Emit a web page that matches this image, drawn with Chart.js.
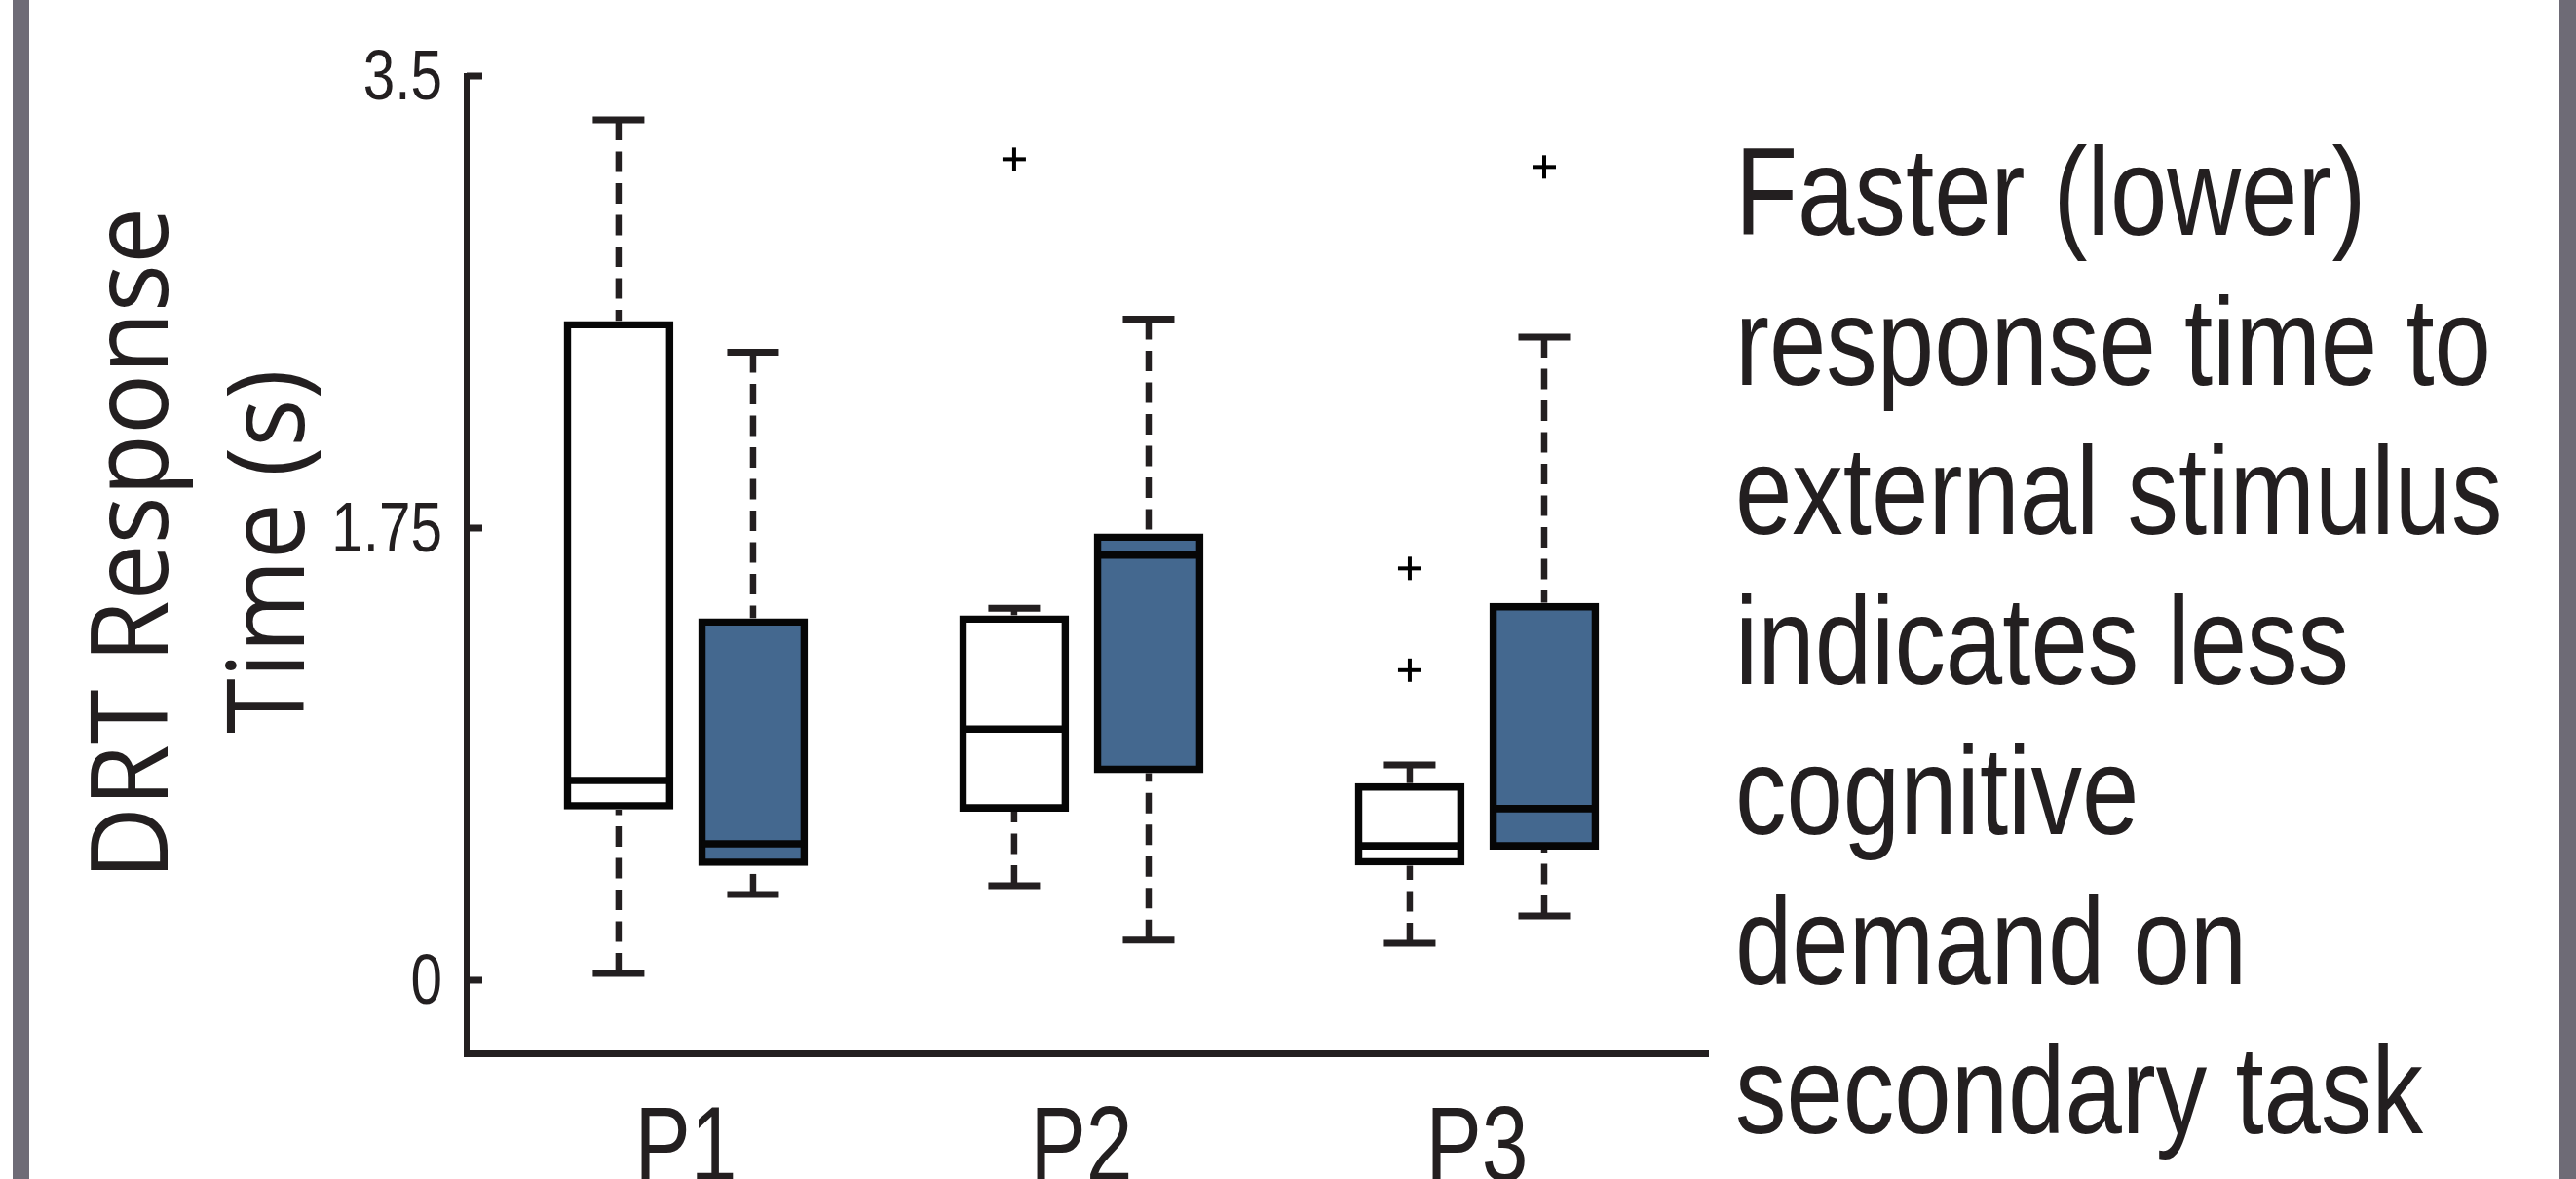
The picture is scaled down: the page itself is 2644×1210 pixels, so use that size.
<!DOCTYPE html>
<html>
<head>
<meta charset="utf-8">
<script src="https://cdn.jsdelivr.net/npm/chart.js@4.4.1/dist/chart.umd.min.js"></script>
<style>
  html, body { margin: 0; padding: 0; background: #fff; }
  #wrap { position: relative; width: 2644px; height: 1210px; overflow: hidden; background: #fff; }
  #chart { position: absolute; left: 0; top: 0; }
  .frame { position: absolute; top: 0; height: 1210px; background: #6e6b76; }
  #note {
    position: absolute; left: 1781px; top: 120px;
    font-family: "Liberation Sans", Arial, sans-serif;
    font-size: 128px; line-height: 153.7px; color: #231f20; white-space: nowrap;
    transform: scaleX(0.82); transform-origin: 0 0;
  }
</style>
</head>
<body>
<div id="wrap">
  <div class="frame" style="left:13px;width:17px"></div>
  <div class="frame" style="left:2627px;width:17px"></div>
  <canvas id="chart" width="2644" height="1210"></canvas>
  <div id="note"></div>
</div>
<script>
// data (seconds)
const categories = ['P1', 'P2', 'P3'];
const yTicks = [0, 1.75, 3.5];
const yTickLabels = ['0', '1.75', '3.5'];
const yTitle = ['DRT Response', 'Time (s)'];
const noteLines = ['Faster (lower)', 'response time to', 'external stimulus',
  'indicates less', 'cognitive', 'demand on', 'secondary task'];

// white boxes
const whiteMin = [0.026, 0.366, 0.143];
const whiteQ1 = [0.675, 0.667, 0.458];
const whiteMedian = [0.773, 0.972, 0.520];
const whiteQ3 = [2.537, 1.398, 0.748];
const whiteMax = [3.33, 1.44, 0.833];
const whiteOutliers = [[], [3.178], [1.594, 1.20]];

// blue boxes
const blueMin = [0.332, 0.155, 0.249];
const blueQ1 = [0.456, 0.816, 0.520];
const blueMedian = [0.528, 1.645, 0.664];
const blueQ3 = [1.387, 1.715, 1.446];
const blueMax = [2.431, 2.559, 2.489];
const blueOutliers = [[], [], [3.148]];

const ink = '#231f20';

document.getElementById('note').innerHTML = noteLines.join('<br>');

function boxData(q1, q3) {
  return categories.map((c, i) => ({ x: i + 1, y: [q1[i], q3[i]] }));
}

function stats(min, q1, med, q3, max, out) {
  return categories.map((c, i) => ({ min: min[i], q1: q1[i], med: med[i], q3: q3[i], max: max[i], out: out[i] }));
}

function line(ctx, x1, y1, x2, y2) {
  ctx.beginPath();
  ctx.moveTo(x1, y1);
  ctx.lineTo(x2, y2);
  ctx.stroke();
}

// narrow text: no condensed face is installed, so squeeze a regular one
function squeezedText(ctx, text, x, y, squeeze, align) {
  ctx.save();
  ctx.translate(x, y);
  ctx.scale(squeeze, 1);
  ctx.textAlign = align;
  ctx.fillText(text, 0, 0);
  ctx.restore();
}

// whiskers, caps, medians and outliers on top of the floating bars
const boxExtras = {
  id: 'boxExtras',
  afterDatasetsDraw(chart) {
    const ctx = chart.ctx;
    const y = chart.scales.y;
    chart.data.datasets.forEach((ds, di) => {
      chart.getDatasetMeta(di).data.forEach((bar, i) => {
        const s = ds.stats[i];
        const x = bar.x;
        const half = bar.width / 2;
        ctx.save();
        ctx.lineCap = 'butt';
        ctx.strokeStyle = ink;
        ctx.lineWidth = 6.5;
        ctx.setLineDash([21, 11.5]);
        line(ctx, x, y.getPixelForValue(s.max), x, y.getPixelForValue(s.q3) - 4);
        line(ctx, x, y.getPixelForValue(s.min), x, y.getPixelForValue(s.q1) + 4);
        ctx.setLineDash([]);
        ctx.lineWidth = 7;
        line(ctx, x - 26.5, y.getPixelForValue(s.max), x + 26.5, y.getPixelForValue(s.max));
        line(ctx, x - 26.5, y.getPixelForValue(s.min), x + 26.5, y.getPixelForValue(s.min));
        ctx.strokeStyle = '#060606';
        ctx.lineWidth = 7.6;
        const ym = y.getPixelForValue(s.med);
        line(ctx, x - half, ym, x + half, ym);
        ctx.strokeStyle = '#000';
        ctx.lineWidth = 4;
        s.out.forEach(v => {
          const yo = y.getPixelForValue(v);
          line(ctx, x - 12, yo, x + 12, yo);
          line(ctx, x, yo - 12, x, yo + 12);
        });
        ctx.restore();
      });
    });
  },
  afterDraw(chart) {
    const ctx = chart.ctx;
    const y = chart.scales.y;
    const xs = chart.scales.x;
    const left = chart.chartArea.left;
    ctx.save();
    // inward tick marks
    ctx.strokeStyle = ink;
    ctx.lineWidth = 7;
    yTicks.forEach(v => line(ctx, left, y.getPixelForValue(v), left + 16, y.getPixelForValue(v)));
    ctx.fillStyle = ink;
    ctx.textBaseline = 'alphabetic';
    // y tick labels
    ctx.font = '73px "Liberation Sans", Arial, sans-serif';
    yTicks.forEach((v, i) => squeezedText(ctx, yTickLabels[i], left - 25, y.getPixelForValue(v) + 24, 0.8, 'right'));
    // category labels (cut by the bottom edge, as in the figure)
    ctx.font = '110px "Liberation Sans", Arial, sans-serif';
    categories.forEach((c, i) => squeezedText(ctx, c, xs.getPixelForValue(i + 1), 1212, 0.78, 'center'));
    // two-line rotated axis title
    ctx.font = '109px "Open Sans", "Noto Sans", sans-serif';
    ctx.textAlign = 'center';
    const squeeze = 690 / ctx.measureText(yTitle[0]).width;
    [[172, 558], [312, 566]].forEach((p, k) => {
      ctx.save();
      ctx.translate(p[0], p[1]);
      ctx.rotate(-Math.PI / 2);
      ctx.scale(squeeze, 1);
      ctx.fillText(yTitle[k], 0, 0);
      ctx.restore();
    });
    ctx.restore();
  }
};

const boxStyle = {
  borderColor: '#060606',
  borderWidth: 7.6,
  inflateAmount: 3.8,
  borderSkipped: false,
  categoryPercentage: 0.68,
  barPercentage: 0.761
};

new Chart(document.getElementById('chart'), {
  type: 'bar',
  data: {
    datasets: [
      Object.assign({ label: 'Condition 1', data: boxData(whiteQ1, whiteQ3), backgroundColor: '#ffffff',
        stats: stats(whiteMin, whiteQ1, whiteMedian, whiteQ3, whiteMax, whiteOutliers) }, boxStyle),
      Object.assign({ label: 'Condition 2', data: boxData(blueQ1, blueQ3), backgroundColor: '#44688f',
        stats: stats(blueMin, blueQ1, blueMedian, blueQ3, blueMax, blueOutliers) }, boxStyle)
    ]
  },
  options: {
    responsive: false,
    devicePixelRatio: 1,
    animation: false,
    layout: { padding: { top: 78, right: 890.5, left: 0, bottom: 0 } },
    plugins: { legend: { display: false }, tooltip: { enabled: false } },
    scales: {
      x: {
        type: 'linear',
        min: 0.446,
        max: 3.585,
        offset: false,
        afterBuildTicks: s => { s.ticks = categories.map((c, i) => ({ value: i + 1 })); },
        afterFit: s => { s.height = 129; },
        grid: { display: false, drawTicks: false, offset: false },
        border: { display: true, color: ink, width: 7 },
        ticks: { display: false }
      },
      y: {
        min: -0.283,
        max: 3.5,
        afterBuildTicks: s => { s.ticks = yTicks.map(v => ({ value: v })); },
        afterFit: s => { s.width = 479; },
        grid: { display: false, drawTicks: false },
        border: { display: true, color: ink, width: 6 },
        ticks: { display: false }
      }
    }
  },
  plugins: [boxExtras]
});
</script>
</body>
</html>
